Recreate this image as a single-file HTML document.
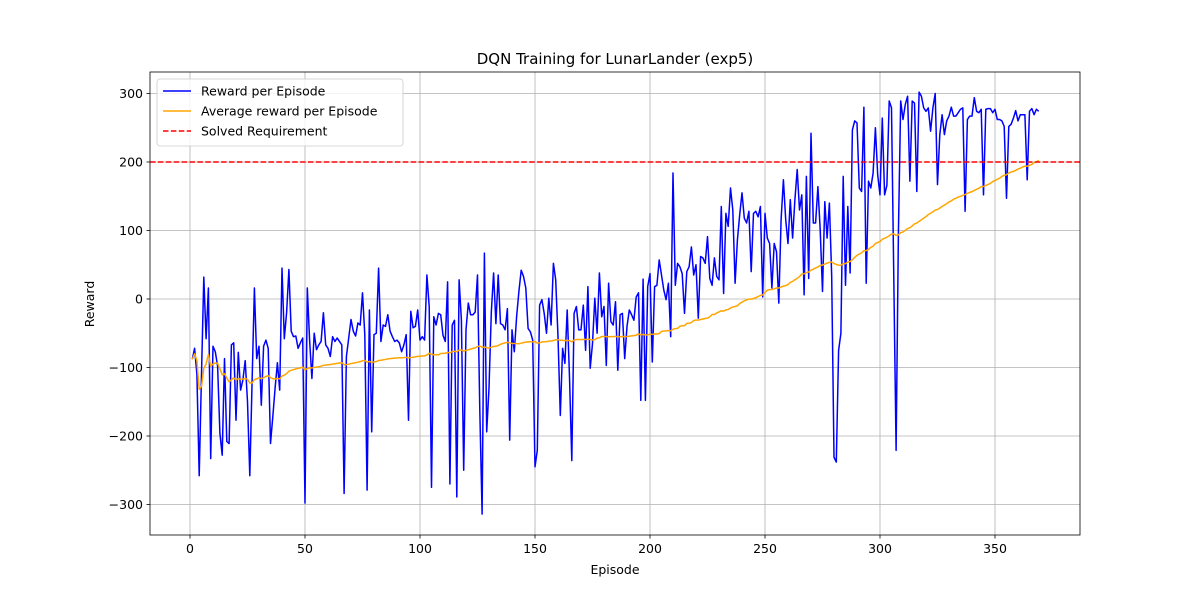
<!DOCTYPE html>
<html><head><meta charset="utf-8"><style>
body{margin:0;background:#fff;font-family:"Liberation Sans","DejaVu Sans",sans-serif}
svg text{font-family:"DejaVu Sans","Liberation Sans",sans-serif}
</style></head><body>
<svg id="chart" width="1200" height="600" xmlns="http://www.w3.org/2000/svg"></svg>
<script>
const rewards = [-88,-72,-110,-258,-110,32,-58,16,-233,-69,
-77,-98,-196,-228,-87,-208,-211,-67,-64,-177,
-78,-133,-118,-90,-150,-258,-120,16,-87,-69,
-155,-69,-60,-72,-211,-172,-130,-93,-133,45,
-58,-20,43,-47,-55,-54,-72,-64,-57,-298,
16,-60,-116,-50,-74,-67,-62,-20,-67,-72,
-84,-55,-62,-57,-62,-67,-284,-84,-57,-30,
-47,-54,-35,-38,9,-52,-279,-16,-194,-52,
-50,45,-62,-38,-40,-23,-47,-55,-62,-60,
-64,-77,-67,-52,-177,-18,-42,-40,-16,-60,
-55,-60,35,-11,-275,-26,-38,-21,-23,-53,
-62,25,-270,-38,-31,-289,28,-31,-250,-45,
-6,-23,-23,-19,35,-162,-314,67,-194,-130,
-20,38,-36,35,-36,-38,-45,-14,-206,-45,
-77,-26,11,42,33,16,-43,-48,-60,-245,
-221,-9,-1,-21,-50,1,-38,52,28,-55,
-170,-72,-94,-16,-114,-236,-21,-11,-45,-45,
-9,-75,18,-101,-65,1,-50,38,-26,-11,
-97,23,-33,-38,-4,-104,-23,-21,-87,-40,
-16,-23,-31,3,9,-148,29,-148,18,37,
-92,18,20,57,35,13,-1,23,-55,184,
20,52,47,37,-21,40,47,76,35,50,
-28,62,60,52,91,30,20,60,33,28,
135,8,125,106,162,130,23,86,123,155,
118,111,128,40,125,128,120,135,3,125,
89,81,16,81,69,-6,116,174,116,81,
145,89,145,189,130,152,6,179,30,242,
111,111,164,101,11,142,89,140,33,-231,
-238,-75,-50,179,20,135,38,247,260,257,
162,157,280,23,172,162,184,250,181,152,
264,152,166,289,279,30,-221,96,289,262,
284,296,172,289,286,157,302,296,279,274,
279,245,279,300,167,240,269,240,260,267,
280,267,267,272,277,279,128,262,267,267,
294,274,272,277,152,277,278,278,272,277,
262,262,260,252,147,252,255,264,275,260,
269,269,269,174,274,278,269,277,274];
const xTicks = [0,50,100,150,200,250,300,350];
const yTicks = [-300,-200,-100,0,100,200,300];
const solvedReq = 200;
const windowSize = 100;

const L=150,R=1080,T=72,B=535;
const xs = v => 190 + 2.3*v;
const ys = v => 299 - 0.685*v;
const NS="http://www.w3.org/2000/svg";
const svg=document.getElementById('chart');
function mk(tag,attrs,parent){const e=document.createElementNS(NS,tag);for(const k in attrs)e.setAttribute(k,attrs[k]);(parent||svg).appendChild(e);return e;}

const grid=mk('g',{});


xTicks.forEach(t=>{
  const X=xs(t);
  mk('line',{x1:X,x2:X,y1:T,y2:B,stroke:'#b0b0b0','stroke-width':0.8},grid);
  mk('line',{x1:X,x2:X,y1:B,y2:B+3.5,stroke:'#000','stroke-width':0.8},grid);
  const tx=mk('text',{x:X,y:B+18,'font-size':12.5,'text-anchor':'middle'},grid);
  tx.textContent=t;
  
  
});
yTicks.forEach(t=>{
  const Y=ys(t);
  mk('line',{x1:L,x2:R,y1:Y,y2:Y,stroke:'#b0b0b0','stroke-width':0.8},grid);
  mk('line',{x1:L-3.5,x2:L,y1:Y,y2:Y,stroke:'#000','stroke-width':0.8},grid);
  const tx=mk('text',{x:L-7,y:Y+4.5,'font-size':12.5,'text-anchor':'end'},grid);
  tx.textContent=(t<0?'\u2212'+(-t):t);
  
  
});

const clip=mk('clipPath',{id:'pc'});mk('rect',{x:L,y:T,width:R-L,height:B-T},clip);

let d='';
rewards.forEach((v,i)=>{d+=(i?'L':'M')+xs(i+1).toFixed(2)+','+ys(v).toFixed(2);});
const rl=mk('path',{d:d,fill:'none',stroke:'#0000ff','stroke-width':1.5,'stroke-linejoin':'round','clip-path':'url(#pc)'});



let d2='';
rewards.forEach((v,i)=>{
  const s=Math.max(0,i-windowSize+1);let sum=0;for(let j=s;j<=i;j++)sum+=rewards[j];
  const m=sum/(i-s+1);
  d2+=(i?'L':'M')+xs(i+1).toFixed(2)+','+ys(m).toFixed(2);
});
const al=mk('path',{d:d2,fill:'none',stroke:'#ffa500','stroke-width':1.5,'stroke-linejoin':'round','clip-path':'url(#pc)'});



const sl=mk('line',{x1:L,x2:R,y1:ys(solvedReq),y2:ys(solvedReq),stroke:'#ff0000','stroke-width':1.5,'stroke-dasharray':'5.5,2.4'});



const fr=mk('rect',{x:L,y:T,width:R-L,height:B-T,fill:'none',stroke:'#000','stroke-width':0.8});



const title=mk('text',{x:615,y:64,'font-size':15,'text-anchor':'middle'});
title.textContent='DQN Training for LunarLander (exp5)';


const xl=mk('text',{x:615,y:574,'font-size':12.5,'text-anchor':'middle'});
xl.textContent='Episode';


const yl=mk('text',{x:94,y:304,'font-size':12.5,'text-anchor':'middle',transform:'rotate(-90 94 304)'});
yl.textContent='Reward';



const lg=mk('g',{});


mk('rect',{x:157,y:79,width:246,height:67,rx:3,fill:'#fff','fill-opacity':0.8,stroke:'#cccccc','stroke-width':0.8},lg);
const entries=[['Reward per Episode','#0000ff',''],['Average reward per Episode','#ffa500',''],['Solved Requirement','#ff0000','5.5,2.4']];
entries.forEach((e,i)=>{
  const Y=91+i*20;
  const ln=mk('line',{x1:163,x2:191,y1:Y,y2:Y,stroke:e[1],'stroke-width':1.5,'stroke-dasharray':e[2]||'none'},lg);
  
  
  const t=mk('text',{x:201,y:Y+4.5,'font-size':12.5},lg);
  t.textContent=e[0];
  
  
});
</script>
</body></html>
